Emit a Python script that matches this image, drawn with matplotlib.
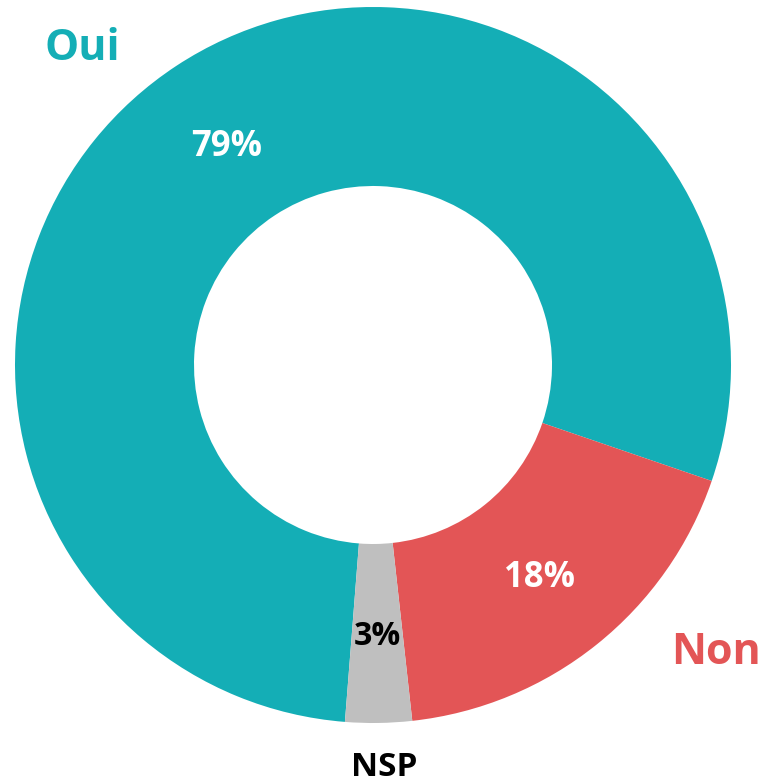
import numpy as np
import matplotlib.pyplot as plt

# data
categories = ["Oui", "Non", "NSP"]
values = [79, 18, 3]
pct_labels = ["79%", "18%", "3%"]
colors = ["#14AEB6", "#E35556", "#BFBFBF"]
pct_colors = ["white", "white", "black"]

plt.rcParams['font.family'] = ['Open Sans', 'DejaVu Sans']

fig = plt.figure(figsize=(7.62, 7.83), dpi=100)
ax = fig.add_axes([0, 0, 1, 1])

cx, cy, r = 373, 418, 358
wedges, _ = ax.pie(values, colors=colors, startangle=265.5, counterclock=False,
                   center=(cx, cy), radius=r,
                   wedgeprops=dict(width=r * 0.5, linewidth=0))

# pie() resets the limits, so set them afterwards
ax.set_xlim(0, 762)
ax.set_ylim(0, 783)
ax.set_aspect('equal')
ax.axis('off')

# percentage labels in the middle of the ring
for w, lab, col in zip(wedges, pct_labels, pct_colors):
    ang = np.deg2rad((w.theta1 + w.theta2) / 2)
    d = r * 0.745
    ax.text(cx + d * np.cos(ang), cy + d * np.sin(ang) - 5, lab, color=col,
            fontsize=25 if lab != "3%" else 23, fontweight='bold',
            ha='center', va='center')

# category labels
ax.text(82, 734, "Oui", color=colors[0], fontsize=31, fontweight='bold', ha='center', va='center')
ax.text(716, 131, "Non", color=colors[1], fontsize=31, fontweight='bold', ha='center', va='center')
ax.text(384, 16, "NSP", color="black", fontsize=24, fontweight='bold', ha='center', va='center')

fig.savefig("out.png", dpi=100)
